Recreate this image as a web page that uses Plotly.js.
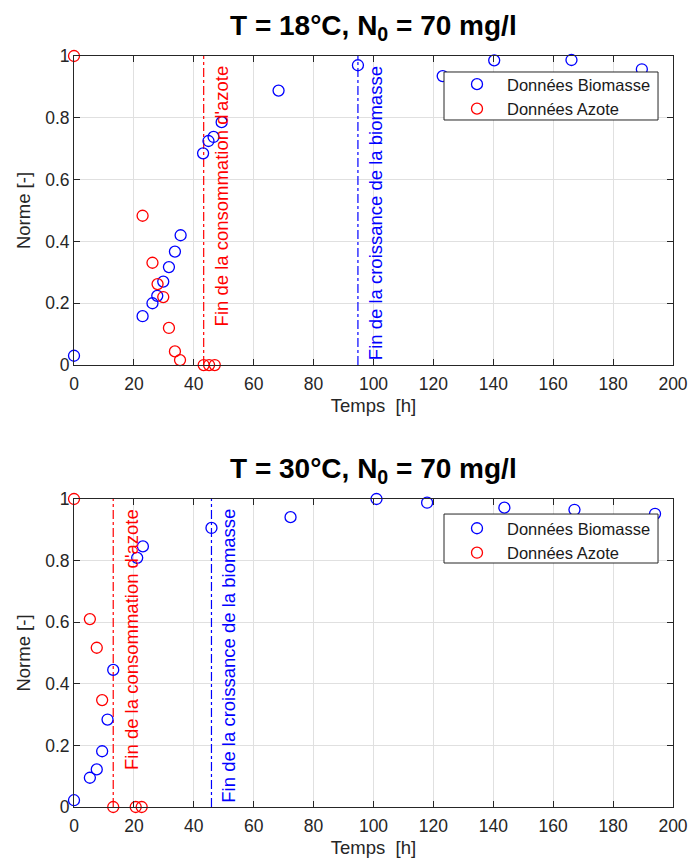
<!DOCTYPE html>
<html>
<head>
<meta charset="utf-8">
<script src="https://cdn.plot.ly/plotly-3.0.1.min.js"></script>
<style>html,body{margin:0;padding:0;background:#fff;}#chart{width:692px;height:866px;}</style>
</head>
<body>
<div id="chart"></div>
<script>
// ---- Plot 1 : T = 18°C ----
const t18Bio = [0, 22.9, 26.2, 27.8, 29.8, 31.7, 33.7, 35.6, 43.1, 44.9, 46.6, 49.3, 68.3, 94.8, 123.1, 140.3, 166.1, 189.6];
const bio18  = [0.03, 0.158, 0.20, 0.224, 0.27, 0.317, 0.367, 0.42, 0.685, 0.725, 0.738, 0.786, 0.888, 0.97, 0.935, 0.986, 0.987, 0.957];
const t18Az  = [0, 22.9, 26.2, 27.9, 29.8, 31.7, 33.7, 35.4, 43.3, 45.1, 47.0];
const az18   = [1, 0.483, 0.331, 0.262, 0.22, 0.12, 0.044, 0.016, 0, 0, 0];
const finAzote18 = 43.3;
const finBio18   = 94.8;

// ---- Plot 2 : T = 30°C ----
const t30Bio = [0, 5.3, 7.6, 9.4, 11.2, 13.1, 21.1, 23.0, 45.9, 72.3, 101.0, 117.9, 143.7, 167.1, 194.0];
const bio30  = [0.022, 0.095, 0.122, 0.181, 0.284, 0.445, 0.809, 0.846, 0.906, 0.941, 1.0, 0.988, 0.972, 0.965, 0.952];
const t30Az  = [0, 5.3, 7.6, 9.4, 13.1, 20.6, 22.6];
const az30   = [1, 0.61, 0.517, 0.347, 0, 0, 0];
const finAzote30 = 13.1;
const finBio30   = 45.9;

const xTicks = [0, 20, 40, 60, 80, 100, 120, 140, 160, 180, 200];
const yTicks = [0, 0.2, 0.4, 0.6, 0.8, 1];
const yTickText = ['0', '0.2', '0.4', '0.6', '0.8', '1'];
const titles = ['T = 18°C, N<sub>0</sub> = 70 mg/l', 'T = 30°C, N<sub>0</sub> = 70 mg/l'];
const legendNames = ['Données Biomasse', 'Données Azote'];
const lineLabels = ["Fin de la consommation d'azote", 'Fin de la croissance de la biomasse'];
const xLabel = 'Temps  [h]';
const yLabel = 'Norme [-]';

const BLUE = '#0000ff', RED = '#ff0000', AX = '#262626', GRID = '#e0e0e0';
const FONT = 'Arial, "Liberation Sans", sans-serif';

function marker(c){ return {symbol:'circle-open', size:11, color:c, line:{color:c, width:1.3}}; }

function traces(xa, ya, tb, b, ta, a, fa, fb, leg){
  return [
    {x:[fa,fa], y:[0,1], xaxis:xa, yaxis:ya, mode:'lines', line:{color:RED, width:1.2, dash:'dashdot'}, showlegend:false, hoverinfo:'skip'},
    {x:[fb,fb], y:[0,1], xaxis:xa, yaxis:ya, mode:'lines', line:{color:BLUE, width:1.2, dash:'dashdot'}, showlegend:false, hoverinfo:'skip'},
    {x:tb, y:b, xaxis:xa, yaxis:ya, mode:'markers', name:legendNames[0], marker:marker(BLUE), legend:leg, cliponaxis:false},
    {x:ta, y:a, xaxis:xa, yaxis:ya, mode:'markers', name:legendNames[1], marker:marker(RED), legend:leg, cliponaxis:false}
  ];
}

const data = [].concat(
  traces('x','y', t18Bio, bio18, t18Az, az18, finAzote18, finBio18, 'legend'),
  traces('x2','y2', t30Bio, bio30, t30Az, az30, finAzote30, finBio30, 'legend2')
);

function xax(anchor){
  return {range:[0,200], tickvals:xTicks, ticks:'inside', ticklen:6, tickcolor:AX, mirror:'ticks',
    showline:true, linecolor:AX, linewidth:1, showgrid:true, gridcolor:GRID, zeroline:false,
    tickfont:{family:FONT, size:17.5, color:AX}, anchor:anchor, ticklabelstandoff:3,
    title:{text:xLabel, font:{family:FONT, size:18.5, color:AX}, standoff:6}};
}
function yax(anchor, dom){
  return {range:[0,1], tickvals:yTicks, ticktext:yTickText, ticks:'inside', ticklen:6, tickcolor:AX, mirror:'ticks',
    showline:true, linecolor:AX, linewidth:1, showgrid:true, gridcolor:GRID, zeroline:false,
    tickfont:{family:FONT, size:17.5, color:AX}, anchor:anchor, domain:dom,
    title:{text:yLabel, font:{family:FONT, size:18.5, color:AX}, standoff:9}};
}

const legStyle = (y) => ({x:0.6227, xanchor:'left', y:y, yanchor:'top', bgcolor:'rgba(0,0,0,0)', borderwidth:0,
  font:{family:FONT, size:16.5, color:'#1a1a1a'}, itemwidth:50, tracegroupgap:0});

function legBox(y0, y1){
  return {type:'rect', xref:'paper', yref:'paper', x0:0.6177, x1:0.975, y0:y0, y1:y1,
    fillcolor:'#ffffff', line:{color:'#262626', width:1}, layer:'above'};
}

function lineAnn(xref, yref, x, text, color){
  return {xref:xref, yref:yref, x:x, y:0.975, xanchor:'left', yanchor:'top', xshift:5, textangle:-90,
    text:text, showarrow:false, font:{family:FONT, size:18.5, color:color}};
}
function titleAnn(y, text){
  return {xref:'paper', yref:'paper', x:0.5, y:y, xanchor:'center', yanchor:'bottom', text:'<b>'+text+'</b>',
    showarrow:false, font:{family:FONT, size:28, color:'#000'}};
}

const layout = {
  width:692, height:866, showlegend:true,
  margin:{l:74, r:19, t:56, b:59},
  paper_bgcolor:'#fff', plot_bgcolor:'#fff',
  xaxis:xax('y'), yaxis:yax('x',[0.5885,1]),
  xaxis2:xax('y2'), yaxis2:yax('x2',[0,0.4101]),
  legend:legStyle(0.9854), legend2:legStyle(0.3941),
  shapes:[legBox(0.9148, 0.9787), legBox(0.3249, 0.3901)],
  annotations:[
    titleAnn(1.012, titles[0]), titleAnn(0.422, titles[1]),
    lineAnn('x','y', finAzote18, lineLabels[0], RED),
    lineAnn('x','y', finBio18, lineLabels[1], BLUE),
    lineAnn('x2','y2', finAzote30, lineLabels[0], RED),
    lineAnn('x2','y2', finBio30, lineLabels[1], BLUE)
  ]
};

Plotly.newPlot('chart', data, layout, {staticPlot:true, displayModeBar:false});
</script>
</body>
</html>
